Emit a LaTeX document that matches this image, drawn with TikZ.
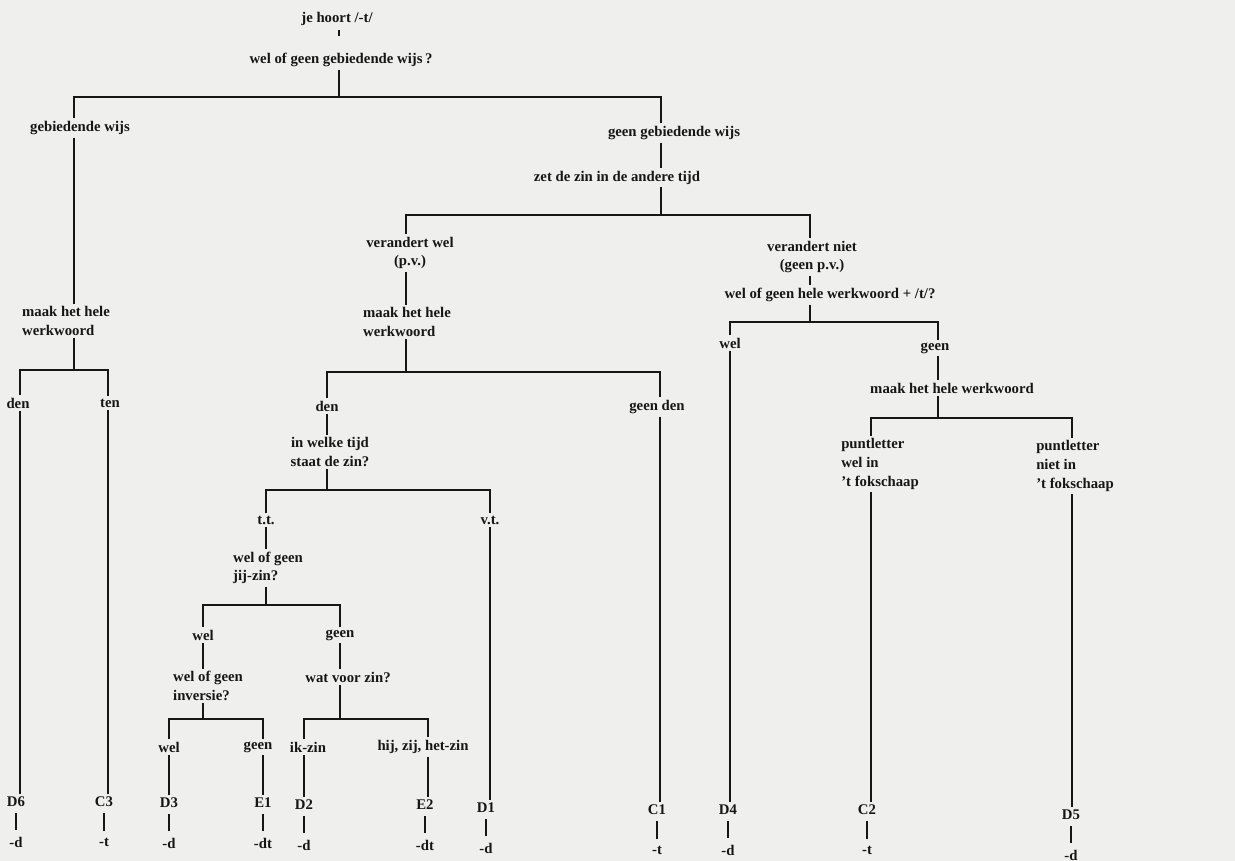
\documentclass[tikz,border=0pt]{standalone}
\usepackage{fontspec}
\setmainfont{Liberation Serif}
\definecolor{paper}{RGB}{239,239,237}
\definecolor{ink}{RGB}{22,22,22}

\begin{document}
\begin{tikzpicture}[x=0.02cm, y=-0.02cm, color=ink, line width=1.2pt,
    lbl/.style={font=\fontsize{8.4}{10.6}\selectfont\bfseries, inner sep=1pt, align=center},
    lbll/.style={lbl, align=left}]
    \useasboundingbox (0,0) rectangle (1235,861);
    \fill[paper] (0,0) rectangle (1235,861);

    % split points
    \coordinate (b1) at (339,97);   \coordinate (b1l) at (74,97);   \coordinate (b1r) at (661,97);
    \coordinate (b2) at (661,215);  \coordinate (b2l) at (406,215); \coordinate (b2r) at (810,215);
    \coordinate (b3) at (74,370);   \coordinate (b3l) at (20,370);  \coordinate (b3r) at (108,370);
    \coordinate (b4) at (406,372);  \coordinate (b4l) at (327,372); \coordinate (b4r) at (660,372);
    \coordinate (b5) at (327,490);  \coordinate (b5l) at (266,490); \coordinate (b5r) at (490,490);
    \coordinate (b6) at (266,605);  \coordinate (b6l) at (203,605); \coordinate (b6r) at (340,605);
    \coordinate (b7) at (203,719);  \coordinate (b7l) at (169,719); \coordinate (b7r) at (263,719);
    \coordinate (b8) at (340,719);  \coordinate (b8l) at (304,719); \coordinate (b8r) at (428,719);
    \coordinate (b9) at (810,322);  \coordinate (b9l) at (730,322); \coordinate (b9r) at (938,322);
    \coordinate (b10) at (938,418); \coordinate (b10l) at (871,418); \coordinate (b10r) at (1072,418);

    % questions and answers
    \node[lbl] (hoort) at (337,19) {je hoort /-t/};
    \node[lbl] (q1) at (341,60) {wel of geen gebiedende wijs\,?};
    \node[lbl] (gw) at (80,128) {gebiedende wijs};
    \node[lbl] (ggw) at (674,133) {geen gebiedende wijs};
    \node[lbl] (zet) at (617,178) {zet de zin in de andere tijd};
    \node[lbl] (vw) at (410,253) {verandert wel\\(p.v.)};
    \node[lbl] (vn) at (812,257) {verandert niet\\(geen p.v.)};
    \node[lbll] (mk1) at (66,321) {maak het hele\\werkwoord};
    \node[lbll] (mk2) at (407,322) {maak het hele\\werkwoord};
    \node[lbl] (den1) at (18,403) {den};
    \node[lbl] (ten1) at (110,403) {ten};
    \node[lbl] (den2) at (327,406) {den};
    \node[lbl] (geenden) at (657,407) {geen den};
    \node[lbl] (welke) at (330,452) {in welke tijd\\staat de zin?};
    \node[lbl] (tt) at (266,520) {t.t.};
    \node[lbl] (vt) at (490,520) {v.t.};
    \node[lbll] (jij) at (268,568) {wel of geen\\jij-zin?};
    \node[lbl] (wel1) at (203,635) {wel};
    \node[lbl] (geen1) at (340,635) {geen};
    \node[lbll] (inv) at (208,686) {wel of geen\\inversie?};
    \node[lbl] (wvz) at (348,677) {wat voor zin?};
    \node[lbl] (wel2) at (169,747) {wel};
    \node[lbl] (geen2) at (258,747) {geen};
    \node[lbl] (ikzin) at (308,747) {ik-zin};
    \node[lbl] (hijzin) at (423,747) {hij, zij, het-zin};
    \node[lbl] (wgh) at (830,295) {wel of geen hele werkwoord + /t/?};
    \node[lbl] (wel3) at (730,343) {wel};
    \node[lbl] (geen3) at (935,348) {geen};
    \node[lbl] (mk3) at (952,388) {maak het hele werkwoord};
    \node[lbll] (pw) at (880,464) {puntletter\\wel in\\'t fokschaap};
    \node[lbll] (pn) at (1075,466) {puntletter\\niet in\\'t fokschaap};

    % leaves
    \foreach \n/\x/\y/\s in {D6/16/802/-d, C3/104/802/-t, D3/169/803/-d, E1/263/803/-dt,
        D2/304/805/-d, E2/425/805/-dt, D1/486/808/-d, C1/657/810/-t, D4/728/810/-d,
        C2/867/810/-t, D5/1071/815/-d} {
        \node[lbl] (l\n) at (\x,\y) {\n};
        \node[lbl] (e\n) at (\x,\y+40) {\s};
        \draw[shorten <=2pt, shorten >=2.5pt] (l\n.south) -- (e\n.north);
    }

    % connectors
    \draw[shorten <=1pt, shorten >=8pt] (hoort.south -| b1) -- (q1.north -| b1);
    \draw (q1.south -| b1) -- (b1);
    \draw (gw.north -| b1l) -- (b1l) -- (b1r) -- (ggw.north -| b1r);
    \draw (gw.south -| b1l) -- (mk1.north -| b1l);
    \draw (ggw.south -| b1r) -- (zet.north -| b1r);
    \draw (zet.south -| b2) -- (b2);
    \draw (vw.north -| b2l) -- (b2l) -- (b2r) -- (vn.north -| b2r);
    \draw (vw.south -| b2l) -- (mk2.north -| b2l);
    \draw (vn.south -| b2r) -- (wgh.north -| b2r);

    \draw (mk1.south -| b3) -- (b3);
    \draw (den1.north -| b3l) -- (b3l) -- (b3r) -- (ten1.north -| b3r);
    \draw (den1.south -| b3l) -- (lD6.north -| b3l);
    \draw (ten1.south -| b3r) -- (lC3.north -| b3r);

    \draw (mk2.south -| b4) -- (b4);
    \draw (den2.north -| b4l) -- (b4l) -- (b4r) -- (geenden.north -| b4r);
    \draw (geenden.south -| b4r) -- (lC1.north -| b4r);
    \draw (den2.south -| b4l) -- (welke.north -| b4l);
    \draw (welke.south -| b5) -- (b5);
    \draw (tt.north -| b5l) -- (b5l) -- (b5r) -- (vt.north -| b5r);
    \draw (vt.south -| b5r) -- (lD1.north -| b5r);
    \draw (tt.south -| b5l) -- (jij.north -| b5l);
    \draw (jij.south -| b6) -- (b6);
    \draw (wel1.north -| b6l) -- (b6l) -- (b6r) -- (geen1.north -| b6r);
    \draw (wel1.south -| b6l) -- (inv.north -| b6l);
    \draw (geen1.south -| b6r) -- (wvz.north -| b6r);
    \draw (inv.south -| b7) -- (b7);
    \draw (wel2.north -| b7l) -- (b7l) -- (b7r) -- (geen2.north -| b7r);
    \draw (wel2.south -| b7l) -- (lD3.north -| b7l);
    \draw (geen2.south -| b7r) -- (lE1.north -| b7r);
    \draw (wvz.south -| b8) -- (b8);
    \draw (ikzin.north -| b8l) -- (b8l) -- (b8r) -- (hijzin.north -| b8r);
    \draw (ikzin.south -| b8l) -- (lD2.north -| b8l);
    \draw (hijzin.south -| b8r) -- (lE2.north -| b8r);

    \draw (wgh.south -| b9) -- (b9);
    \draw (wel3.north -| b9l) -- (b9l) -- (b9r) -- (geen3.north -| b9r);
    \draw (wel3.south -| b9l) -- (lD4.north -| b9l);
    \draw (geen3.south -| b9r) -- (mk3.north -| b9r);
    \draw (mk3.south -| b10) -- (b10);
    \draw (pw.north -| b10l) -- (b10l) -- (b10r) -- (pn.north -| b10r);
    \draw (pw.south -| b10l) -- (lC2.north -| b10l);
    \draw (pn.south -| b10r) -- (lD5.north -| b10r);
\end{tikzpicture}
\end{document}
